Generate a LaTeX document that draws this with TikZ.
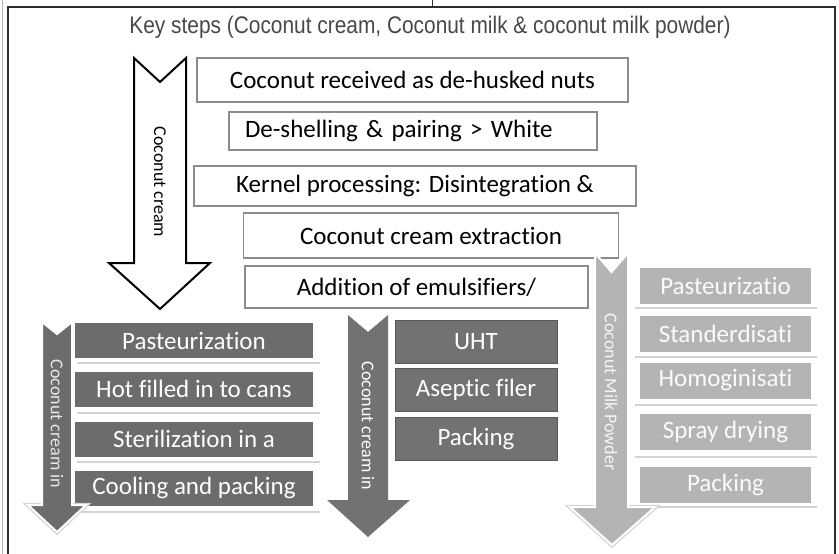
\documentclass[tikz,border=0pt]{standalone}
\usepackage{fontspec}
\setmainfont{Carlito}[Ligatures=NoCommon]
\newfontfamily\titlefont{Liberation Sans}
\definecolor{FrameClr}{RGB}{45,45,45}
\definecolor{TitleClr}{RGB}{72,72,72}
\definecolor{EdgeClr}{RGB}{140,140,140}
\definecolor{DarkClr}{RGB}{108,108,108}
\definecolor{MidClr}{RGB}{114,114,114}
\definecolor{MidEdgeClr}{RGB}{88,88,88}
\definecolor{LightClr}{RGB}{180,180,180}
\definecolor{RuleClr}{RGB}{212,212,212}

\begin{document}
\begin{tikzpicture}[x=1pt,y=-1pt,
  stepfont/.style={font=\fontsize{25}{25}\selectfont},
  whitebox/.style={draw=EdgeClr,line width=1.5pt,fill=white,stepfont,inner sep=0pt},
  darkbox/.style={fill=DarkClr,text=white,stepfont,inner sep=0pt,minimum width=238pt,minimum height=35pt},
  midbox/.style={fill=MidClr,draw=MidEdgeClr,line width=1pt,text=white,stepfont,inner sep=0pt,minimum width=162pt,minimum height=43pt},
  lightbox/.style={fill=LightClr,text=white!95!LightClr,stepfont,inner sep=0pt,minimum width=171pt,minimum height=36pt},
  shelf/.style={draw=RuleClr,line width=2pt},
  arrowlabel/.style={rotate=-90,font=\fontsize{18}{18}\selectfont,inner sep=0pt}]
\useasboundingbox (0,0) rectangle (839,554);

% Frame round the figure.
\draw[gray!60,line width=0.8pt] (2,0) -- (2,554);
\draw[FrameClr,line width=1pt] (432,0) -- (432,7);
\draw[FrameClr,line width=1.2pt] (8,554) -- (8,7) -- (835,7) -- (835,554);

\node[font=\titlefont\fontsize{24}{24}\selectfont,text=TitleClr] (title) at (430,27)
  {\scalebox{0.87}[1]{Key steps (Coconut cream, Coconut milk \& coconut milk powder)}};

% Common steps.
\node[whitebox,minimum width=431pt,minimum height=44pt] (received) at (412.5,80) {Coconut received as de-husked nuts};
\node[whitebox,text width=336pt,align=left,inner xsep=16pt,minimum height=38pt] (shelling) at (413,131) {De-shelling \& pairing > White};
\node[whitebox,minimum width=442pt,minimum height=40pt] (kernel) at (415,186) {Kernel processing: Disintegration \&};
\node[whitebox,minimum width=375pt,minimum height=45pt] (extraction) at (431,235.5) {Coconut cream extraction};
\node[whitebox,minimum width=343pt,minimum height=42pt] (emulsifier) at (416.5,287) {Addition of emulsifiers/};

% Big hollow arrow.
\draw[line width=2pt,fill=white,line join=miter] (134,58) -- (160,82) -- (186,58) -- (186,263)
  -- (210,263) -- (160,309) -- (109,263) -- (134,263) -- cycle;
\node[arrowlabel] (creamlbl) at (160,182) {Coconut cream};

% Canned coconut cream.
\foreach \yy in {363,413,462,512}
  \draw[shelf] (77,\yy) -- (320,\yy);
\node[darkbox] (pasteur) at (194,340.5) {Pasteurization};
\node[darkbox] (hotfill) at (194,389) {Hot filled in to cans};
\node[darkbox] (steril) at (194,439) {Sterilization in a};
\node[darkbox] (cooling) at (194,488) {Cooling and packing};
\draw[RuleClr,line width=4.5pt,line join=miter] (42,505) -- (28,505) -- (57,532) -- (86,505) -- (72,505);
\draw[fill=DarkClr,draw=white,line width=2pt,line join=miter] (42,322) -- (57,334) -- (72,322) -- (72,505)
  -- (86,505) -- (57,532) -- (28,505) -- (42,505) -- cycle;
\node[arrowlabel,text=white!85!DarkClr] (canlbl) at (57,424) {Coconut cream in};

% Aseptic coconut cream.
\node[midbox] (uht) at (476,341.5) {UHT};
\node[midbox] (aseptic) at (476,390) {Aseptic filer};
\node[midbox] (packmid) at (476,438.5) {Packing};
\draw[fill=MidClr,draw=none] (348,315) -- (368,332) -- (388,315) -- (388,500)
  -- (410,500) -- (368,537) -- (327,500) -- (348,500) -- cycle;
\node[arrowlabel,text=white] (asepticlbl) at (368,426) {Coconut cream in};

% Coconut milk powder.
\foreach \yy in {308,357,405,457,507}
  \draw[shelf] (635,\yy) -- (817,\yy);
\node[lightbox] (pastmilk) at (725.5,285.5) {Pasteurizatio};
\node[lightbox] (stand) at (725.5,333.5) {Standerdisati};
\node[lightbox] (homog) at (725.5,380.5) {Homoginisati};
\node[lightbox] (spray) at (725.5,431.5) {Spray drying};
\node[lightbox] (packmilk) at (725.5,484.5) {Packing};
\draw[RuleClr,line width=4.5pt,line join=miter] (595,507) -- (570,507) -- (612,545) -- (655,507) -- (628,507);
\draw[fill=LightClr,draw=white,line width=2pt,line join=miter] (595,253) -- (611.5,272) -- (628,253) -- (628,507)
  -- (655,507) -- (612,545) -- (570,507) -- (595,507) -- cycle;
\node[arrowlabel,text=white!88!LightClr] (powderlbl) at (611,392) {Coconut Milk Powder};

\end{tikzpicture}
\end{document}
